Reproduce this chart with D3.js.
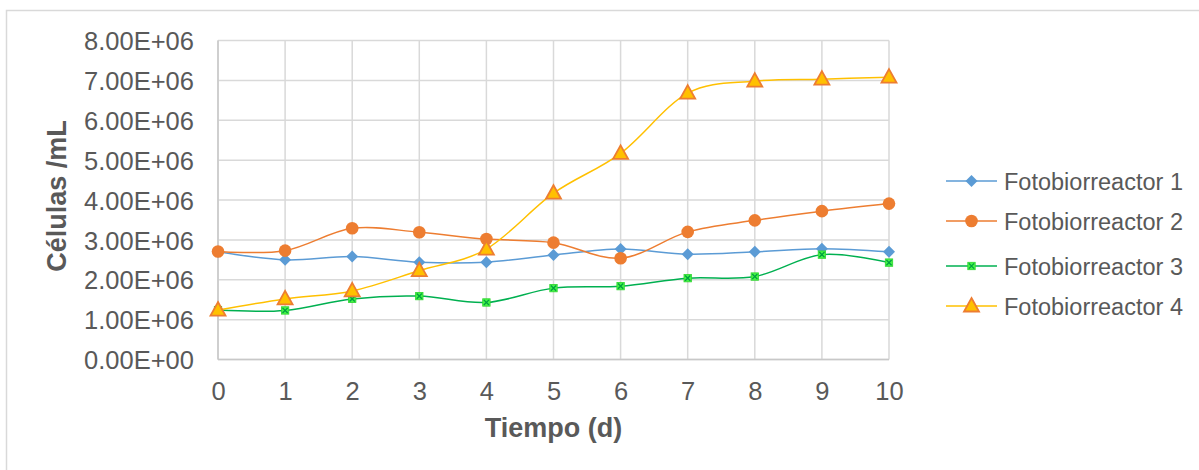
<!DOCTYPE html>
<html><head><meta charset="utf-8">
<script src="https://cdn.jsdelivr.net/npm/d3@7"></script>
<style>body{margin:0;background:#fff}svg{display:block}text{font-family:"Liberation Sans",Arial,sans-serif}</style>
</head><body>
<svg id="c" width="1199" height="470"></svg>
<script>
const days = [0,1,2,3,4,5,6,7,8,9,10];
const seriesNames = ["Fotobiorreactor 1","Fotobiorreactor 2","Fotobiorreactor 3","Fotobiorreactor 4"];
const fb1 = [2.70e6,2.50e6,2.58e6,2.44e6,2.44e6,2.62e6,2.77e6,2.64e6,2.70e6,2.78e6,2.70e6];
const fb2 = [2.71e6,2.73e6,3.29e6,3.19e6,3.02e6,2.93e6,2.54e6,3.20e6,3.49e6,3.72e6,3.91e6];
const fb3 = [1.24e6,1.23e6,1.52e6,1.59e6,1.43e6,1.79e6,1.84e6,2.04e6,2.08e6,2.63e6,2.43e6];
const fb4 = [1.24e6,1.52e6,1.72e6,2.23e6,2.77e6,4.17e6,5.17e6,6.68e6,6.98e6,7.03e6,7.08e6];
const yTicks = [0,1e6,2e6,3e6,4e6,5e6,6e6,7e6,8e6];
const xTitle = "Tiempo (d)";
const yTitle = "Células /mL";

const svg = d3.select("#c");
const x = d3.scaleLinear().domain([0,10]).range([218,889]);
const y = d3.scaleLinear().domain([0,8e6]).range([359.5,40.5]);
const grid = "#d9d9d9", txt = "#595959";

svg.append("rect").attr("x",6.5).attr("y",10.5).attr("width",1300).attr("height",600)
  .attr("fill","#fff").attr("stroke",grid).attr("stroke-width",1.5);

// gridlines
svg.append("g").selectAll("line").data(yTicks).join("line")
  .attr("x1",x(0)).attr("x2",x(10)).attr("y1",d=>y(d)).attr("y2",d=>y(d))
  .attr("stroke",grid).attr("stroke-width",1.5);
svg.append("g").selectAll("line").data(days).join("line")
  .attr("y1",y(0)).attr("y2",y(8e6)).attr("x1",d=>x(d)).attr("x2",d=>x(d))
  .attr("stroke",grid).attr("stroke-width",1.5);
// axis lines
svg.append("line").attr("x1",x(0)).attr("x2",x(0)).attr("y1",y(0)).attr("y2",y(8e6)).attr("stroke","#c8c8c8").attr("stroke-width",1.5);
svg.append("line").attr("x1",x(0)).attr("x2",x(10)).attr("y1",y(0)).attr("y2",y(0)).attr("stroke","#c8c8c8").attr("stroke-width",1.5);

const fmt = v => v===0 ? "0.00E+00" : (v/1e6).toFixed(2)+"E+06";
// y axis labels
const yAxis = d3.axisLeft(y).tickValues(yTicks).tickFormat(fmt).tickSize(0).tickPadding(24);
const ga = svg.append("g").attr("transform",`translate(${x(0)},0)`).call(yAxis);
ga.select(".domain").remove();
ga.selectAll("text").attr("font-size",25.5).attr("fill",txt).attr("font-family","Liberation Sans, Arial, sans-serif").attr("dy","0.36em");
// x axis labels
const xAxis = d3.axisBottom(x).tickValues(days).tickFormat(d3.format("d")).tickSize(0).tickPadding(22);
const gx = svg.append("g").attr("transform",`translate(0,${y(0)})`).call(xAxis);
gx.select(".domain").remove();
gx.selectAll("text").attr("font-size",25.5).attr("fill",txt).attr("font-family","Liberation Sans, Arial, sans-serif").attr("dy","0.71em");

svg.append("text").attr("x",(x(0)+x(10))/2).attr("y",437).attr("text-anchor","middle")
  .attr("font-size",27).attr("font-weight","bold").attr("fill",txt).text(xTitle);
svg.append("text").attr("transform","translate(66,196) rotate(-90)").attr("text-anchor","middle")
  .attr("font-size",27).attr("font-weight","bold").attr("fill",txt).text(yTitle);

const styles = [
  {color:"#5b9bd5", marker:"diamond"},
  {color:"#ed7d31", marker:"circle"},
  {color:"#00b050", marker:"xsquare"},
  {color:"#ffc000", marker:"triangle"}
];
const data = [fb1,fb2,fb3,fb4];

function drawMarker(g, type, cx, cy){
  if(type==="diamond"){
    g.append("path").attr("d",`M${cx},${cy-6}L${cx+6},${cy}L${cx},${cy+6}L${cx-6},${cy}Z`).attr("fill","#5b9bd5");
  } else if(type==="circle"){
    g.append("circle").attr("cx",cx).attr("cy",cy).attr("r",6.3).attr("fill","#ed7d31");
  } else if(type==="xsquare"){
    g.append("rect").attr("x",cx-3.7).attr("y",cy-3.7).attr("width",7.4).attr("height",7.4)
      .attr("fill","#45f545").attr("stroke","#2fd52f").attr("stroke-width",0.8);
    g.append("path").attr("d",`M${cx-2.6},${cy-2.6}L${cx+2.6},${cy+2.6}M${cx+2.6},${cy-2.6}L${cx-2.6},${cy+2.6}`)
      .attr("stroke","#00a040").attr("stroke-width",1.3);
  } else {
    g.append("path").attr("d",`M${cx},${cy-8}L${cx+7.5},${cy+5.5}L${cx-7.5},${cy+5.5}Z`)
      .attr("fill","#ffc000").attr("stroke","#ed7d31").attr("stroke-width",1.8).attr("stroke-linejoin","miter");
  }
}

const line = d3.line().x((d,i)=>x(days[i])).y(d=>y(d)).curve(d3.curveCardinal.tension(0));
data.forEach((vals,si)=>{
  const g = svg.append("g");
  g.append("path").datum(vals).attr("d",line).attr("fill","none")
    .attr("stroke",styles[si].color).attr("stroke-width",1.5);
  vals.forEach((v,i)=>drawMarker(g, styles[si].marker, x(days[i]), y(v)));
});

// legend
const legRows = [181,221,266,306];
seriesNames.forEach((name,i)=>{
  const g = svg.append("g");
  g.append("line").attr("x1",946).attr("x2",997).attr("y1",legRows[i]).attr("y2",legRows[i])
    .attr("stroke",styles[i].color).attr("stroke-width",1.5);
  drawMarker(g, styles[i].marker, 971.5, legRows[i]);
  g.append("text").attr("x",1004).attr("y",legRows[i]+8.5).attr("font-size",23.5).attr("fill",txt).text(name);
});
</script>
</body></html>
